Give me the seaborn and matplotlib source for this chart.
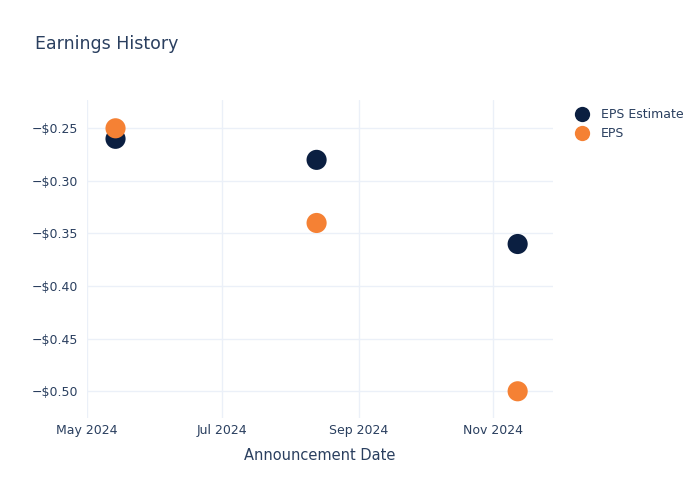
import pandas as pd
import matplotlib.pyplot as plt
import matplotlib.dates as mdates
from matplotlib.ticker import FuncFormatter
import seaborn as sns

# Dados
dates = ['2024-05-14', '2024-08-13', '2024-11-12']
eps_estimate = [-0.26, -0.28, -0.36]
eps_actual = [-0.25, -0.34, -0.50]
series_names = ['EPS Estimate', 'EPS']
series_colors = ['#0b1f41', '#f58134']

text_color = '#2a3f5f'
grid_color = '#ebf0f8'

df = pd.DataFrame({
    'date': pd.to_datetime(dates * 2),
    'value': eps_estimate + eps_actual,
    'series': [series_names[0]] * 3 + [series_names[1]] * 3,
})

sns.set_style('white')
plt.rcParams['font.family'] = ['DejaVu Sans']

fig = plt.figure(figsize=(7, 5), dpi=100)
ax = fig.add_axes([0.124, 0.164, 0.666, 0.636])

sns.scatterplot(data=df, x='date', y='value', hue='series',
                palette=dict(zip(series_names, series_colors)),
                s=210, linewidth=0, ax=ax, legend=False, zorder=3)

ax.set_xlim(pd.Timestamp('2024-05-01'), pd.Timestamp('2024-11-28'))
ax.set_ylim(-0.5254, -0.2231)
ax.xaxis.set_major_locator(mdates.MonthLocator(bymonth=[5, 7, 9, 11]))
ax.xaxis.set_major_formatter(mdates.DateFormatter('%b %Y'))
ax.set_yticks([-0.25, -0.30, -0.35, -0.40, -0.45, -0.50])
ax.yaxis.set_major_formatter(FuncFormatter(lambda v, p: '\u2212$%.2f' % abs(v)))

ax.grid(True, color=grid_color, linewidth=1)
for s in ax.spines.values():
    s.set_visible(False)
ax.tick_params(length=0, colors=text_color, labelsize=9)
ax.tick_params(axis='x', pad=4)
ax.tick_params(axis='y', pad=6)

ax.set_xlabel('Announcement Date', color=text_color, fontsize=10.5, labelpad=8)
ax.set_ylabel('')
fig.text(0.05, 0.912, 'Earnings History', color=text_color, fontsize=12.5, va='center')

# Legenda
handles = [plt.Line2D([], [], marker='o', linestyle='', markersize=11,
                      markerfacecolor=c, markeredgewidth=0) for c in series_colors]
fig.legend(handles, series_names, loc='upper left', bbox_to_anchor=(0.807, 0.794),
           frameon=False, labelcolor=text_color, fontsize=9,
           handletextpad=0.45, labelspacing=0.5, borderaxespad=0)

fig.savefig('out.png', dpi=100)
